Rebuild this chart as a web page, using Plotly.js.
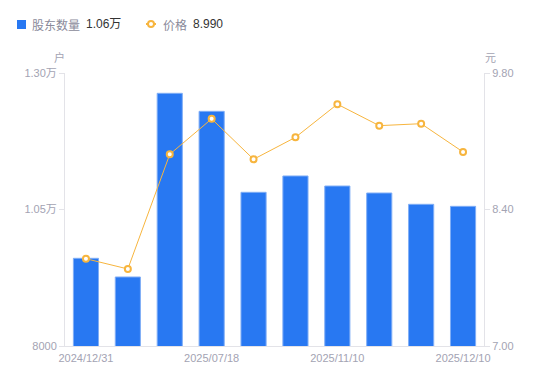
<!DOCTYPE html>
<html>
<head>
<meta charset="utf-8">
<script src="https://cdn.plot.ly/plotly-3.0.1.min.js"></script>
<style>html,body{margin:0;padding:0;background:#fff;}#chart{width:550px;height:381px;}</style>
</head>
<body>
<div id="chart"></div>
<script>
const dates = ['2024/12/31','2025/03/31','2025/06/30','2025/07/18','2025/08/31','2025/09/30','2025/11/10','2025/11/20','2025/11/30','2025/12/10'];
const holders = [9606, 9264, 12628, 12298, 10815, 11114, 10930, 10802, 10595, 10558];
const prices = [7.895, 7.79, 8.966, 9.33, 8.915, 9.14, 9.48, 9.26, 9.28, 8.99];
const xTickDates = ['2024/12/31','2025/07/18','2025/11/10','2025/12/10'];
const leftTickVals = [8000, 10500, 13000];
const leftTickText = ['8000', '1.05万', '1.30万'];
const rightTickVals = [7.0, 8.4, 9.8];
const rightTickText = ['7.00', '8.40', '9.80'];
const legendHolder = '1.06万';
const legendPrice = '8.990';

const FONT = 'Liberation Sans, Arial, Noto Sans CJK SC, sans-serif';
const tickColor = '#a3a3b3';
const axisLine = '#e3e3e8';

const traces = [
  {
    type: 'bar', x: dates, y: holders, yaxis: 'y', width: 0.6,
    marker: {color: '#2878f2', line: {color: '#80aef6', width: 1}},
    hoverinfo: 'skip'
  },
  {
    type: 'scatter', mode: 'lines+markers', x: dates, y: prices, yaxis: 'y2',
    line: {color: '#f7b53e', width: 1},
    marker: {symbol: 'circle', size: 6, color: '#ffffff', line: {color: '#f7b53e', width: 2}},
    hoverinfo: 'skip'
  }
];

const layout = {
  width: 550, height: 381,
  margin: {l: 65, r: 66, t: 73, b: 35},
  paper_bgcolor: '#fff', plot_bgcolor: '#fff',
  showlegend: false,
  font: {family: FONT, size: 11, color: tickColor},
  bargap: 0.4,
  xaxis: {
    type: 'category', categoryorder: 'array', categoryarray: dates,
    tickmode: 'array', tickvals: xTickDates, ticktext: xTickDates,
    showgrid: false, zeroline: false,
    showline: true, linecolor: axisLine, linewidth: 1,
    ticks: '', ticklabelstandoff: 2, tickfont: {family: FONT, size: 11, color: tickColor},
    range: [-0.5, 9.5]
  },
  yaxis: {
    range: [8000, 13000],
    tickmode: 'array', tickvals: leftTickVals, ticktext: leftTickText,
    showgrid: false, zeroline: false,
    showline: true, linecolor: axisLine, linewidth: 1,
    ticks: 'outside', ticklen: 5, tickcolor: axisLine,
    tickfont: {family: FONT, size: 11, color: tickColor}
  },
  yaxis2: {
    range: [7.0, 9.8], overlaying: 'y', side: 'right',
    tickmode: 'array', tickvals: rightTickVals, ticktext: rightTickText,
    showgrid: false, zeroline: false,
    showline: true, linecolor: axisLine, linewidth: 1,
    ticks: 'outside', ticklen: 5, tickcolor: axisLine,
    tickfont: {family: FONT, size: 11, color: tickColor}
  },
  shapes: [
    {type: 'rect', xref: 'paper', yref: 'paper', xsizemode: 'pixel', ysizemode: 'pixel',
     xanchor: 0, yanchor: 1, x0: -48, x1: -39, y0: 44, y1: 53, fillcolor: '#2878f2', line: {width: 0}},
    {type: 'line', xref: 'paper', yref: 'paper', xsizemode: 'pixel', ysizemode: 'pixel',
     xanchor: 0, yanchor: 1, x0: 81, x1: 91, y0: 49, y1: 49, line: {color: '#f7b53e', width: 2}},
    {type: 'circle', xref: 'paper', yref: 'paper', xsizemode: 'pixel', ysizemode: 'pixel',
     xanchor: 0, yanchor: 1, x0: 83, x1: 89, y0: 46, y1: 52, fillcolor: '#fff', line: {color: '#f7b53e', width: 2}}
  ],
  annotations: [
    {xref: 'paper', yref: 'paper', x: 0, y: 1, xshift: -35, yshift: 49, xanchor: 'left', yanchor: 'middle', showarrow: false,
     text: '股东数量', font: {family: 'Noto Sans CJK SC, sans-serif', size: 12, color: '#8a8a9a'}},
    {xref: 'paper', yref: 'paper', x: 0, y: 1, xshift: 19, yshift: 49, xanchor: 'left', yanchor: 'middle', showarrow: false,
     text: legendHolder, font: {family: FONT, size: 12, color: '#333'}},
    {xref: 'paper', yref: 'paper', x: 0, y: 1, xshift: 96, yshift: 49, xanchor: 'left', yanchor: 'middle', showarrow: false,
     text: '价格', font: {family: 'Noto Sans CJK SC, sans-serif', size: 12, color: '#8a8a9a'}},
    {xref: 'paper', yref: 'paper', x: 0, y: 1, xshift: 126, yshift: 49, xanchor: 'left', yanchor: 'middle', showarrow: false,
     text: legendPrice, font: {family: FONT, size: 12, color: '#333'}},
    {xref: 'paper', yref: 'paper', x: 0, y: 1, xshift: -6, yshift: 16, xanchor: 'center', yanchor: 'middle', showarrow: false,
     text: '户', font: {family: 'Noto Sans CJK SC, sans-serif', size: 11, color: tickColor}},
    {xref: 'paper', yref: 'paper', x: 1, y: 1, xshift: 6, yshift: 16, xanchor: 'center', yanchor: 'middle', showarrow: false,
     text: '元', font: {family: 'Noto Sans CJK SC, sans-serif', size: 11, color: tickColor}}
  ]
};

Plotly.newPlot('chart', traces, layout, {staticPlot: true, displayModeBar: false});
</script>
</body>
</html>
